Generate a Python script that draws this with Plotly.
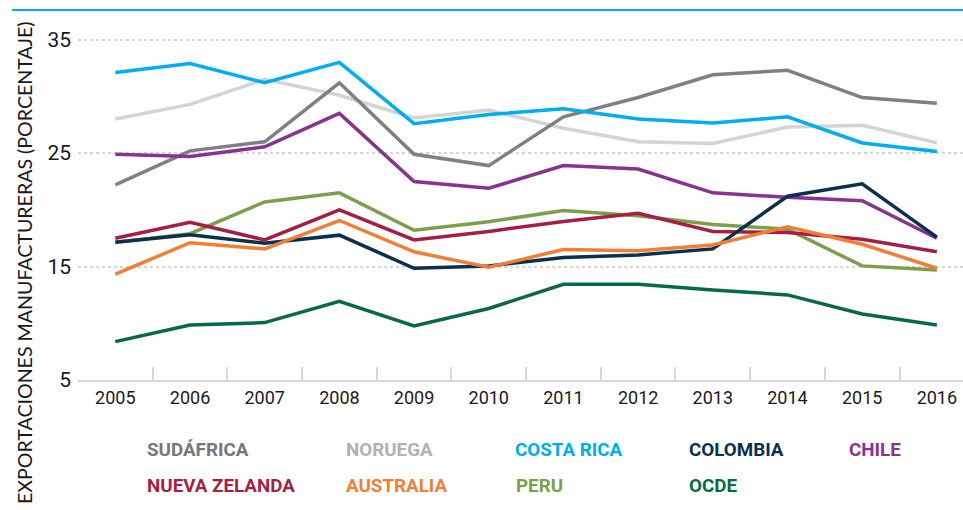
import plotly.graph_objects as go

years = ["2005", "2006", "2007", "2008", "2009", "2010", "2011", "2012", "2013", "2014", "2015", "2016"]

sudafrica = [22.2, 25.2, 26.0, 31.2, 24.9, 23.9, 28.2, 29.9, 31.9, 32.3, 29.9, 29.4]
noruega = [28.0, 29.3, 31.5, 30.1, 28.1, 28.8, 27.2, 26.0, 25.85, 27.3, 27.45, 25.9]
costa_rica = [32.1, 32.9, 31.2, 33.0, 27.6, 28.4, 28.9, 28.0, 27.65, 28.2, 25.9, 25.15]
colombia = [17.15, 17.8, 17.06, 17.77, 14.85, 15.06, 15.8, 16.03, 16.56, 21.2, 22.3, 17.6]
chile = [24.9, 24.7, 25.56, 28.5, 22.5, 21.9, 23.9, 23.6, 21.5, 21.1, 20.8, 17.5]
nueva_zelanda = [17.5, 18.9, 17.35, 20.0, 17.35, 18.1, 18.97, 19.7, 18.1, 18.0, 17.4, 16.3]
australia = [14.33, 17.1, 16.56, 19.06, 16.3, 14.94, 16.5, 16.4, 16.9, 18.5, 16.97, 14.85]
peru = [17.15, 17.9, 20.7, 21.5, 18.2, 18.95, 19.94, 19.47, 18.7, 18.3, 15.06, 14.7]
ocde = [8.38, 9.85, 10.06, 11.94, 9.76, 11.3, 13.44, 13.44, 12.94, 12.5, 10.82, 9.85]

y_ticks = [5, 15, 25, 35]

series = [
    ("SUDÁFRICA", sudafrica, "#808080"),
    ("NORUEGA", noruega, "#d4d4d4"),
    ("COSTA RICA", costa_rica, "#00aeef"),
    ("COLOMBIA", colombia, "#0b2f4f"),
    ("CHILE", chile, "#87338f"),
    ("NUEVA ZELANDA", nueva_zelanda, "#a51f45"),
    ("AUSTRALIA", australia, "#f07f35"),
    ("PERU", peru, "#7b9f4a"),
    ("OCDE", ocde, "#066b44"),
]
legend_colors = {"SUDÁFRICA": "#77777b", "NORUEGA": "#b1b1b1"}

# draw order: back to front
order = ["NORUEGA", "SUDÁFRICA", "COSTA RICA", "CHILE", "PERU", "NUEVA ZELANDA", "COLOMBIA", "AUSTRALIA", "OCDE"]

fig = go.Figure()
lookup = {n: (v, c) for n, v, c in series}
for name in order:
    vals, col = lookup[name]
    fig.add_trace(go.Scatter(x=years, y=vals, mode="lines", name=name,
                             line=dict(color=col, width=3.5), showlegend=False))

font_fam = "Roboto, Liberation Sans, sans-serif"

# plot area: x 78..963, y 17..380
L, T, B = 78, 17, 380
W, H = 963 - L, B - T

fig.update_layout(
    width=963, height=510,
    margin=dict(l=L, r=0, t=T, b=510 - B),
    paper_bgcolor="white", plot_bgcolor="white",
    xaxis=dict(
        type="category", range=[-0.5, 11.35],
        showgrid=False, showline=True, linecolor="#d9d9d9", linewidth=2,
        ticks="inside", ticklen=13, tickcolor="#d9d9d9", tickwidth=1.5,
        tickson="boundaries",
        tickfont=dict(family=font_fam, size=18, color="#1a1a1a"),
        zeroline=False,
    ),
    yaxis=dict(
        range=[5, 37], tickvals=y_ticks,
        showgrid=True, gridcolor="#d6d6d6", griddash="dot", gridwidth=1.5,
        showline=False, zeroline=False, ticks="",
        tickfont=dict(family=font_fam, size=21, color="#1a1a1a"),
        ticklabelstandoff=6,
    ),
)

# top cyan rule
fig.add_shape(type="line", xref="paper", yref="paper",
              x0=(12 - L) / W, x1=1.0, y0=(B - 10) / H, y1=(B - 10) / H,
              line=dict(color="#00aeef", width=2))

# y-axis title
fig.add_annotation(text="EXPORTACIONES MANUFACTURERAS (PORCENTAJE)",
                   xref="paper", yref="paper", x=(24 - L) / W, y=(B - 263) / H,
                   xanchor="center", yanchor="middle", textangle=-90,
                   showarrow=False,
                   font=dict(family="Lato, Roboto, sans-serif", size=19.6, color="#1a1a1a"))

# custom legend
legend_pos = [
    ("SUDÁFRICA", 145, 450), ("NORUEGA", 344, 450), ("COSTA RICA", 513, 450),
    ("COLOMBIA", 687, 450), ("CHILE", 847, 450),
    ("NUEVA ZELANDA", 145, 486), ("AUSTRALIA", 344, 486), ("PERU", 514, 486),
    ("OCDE", 687, 486),
]
for name, px, py in legend_pos:
    col = legend_colors.get(name, lookup[name][1])
    fig.add_annotation(text="<b>%s</b>" % name, xref="paper", yref="paper",
                       x=(px - L) / W, y=(B - py) / H,
                       xanchor="left", yanchor="middle", showarrow=False,
                       font=dict(family=font_fam, size=18.8, color=col))

fig.write_html("out.html", config={"displayModeBar": False},
               post_script="document.body.style.margin='0';document.body.style.overflow='hidden';")
